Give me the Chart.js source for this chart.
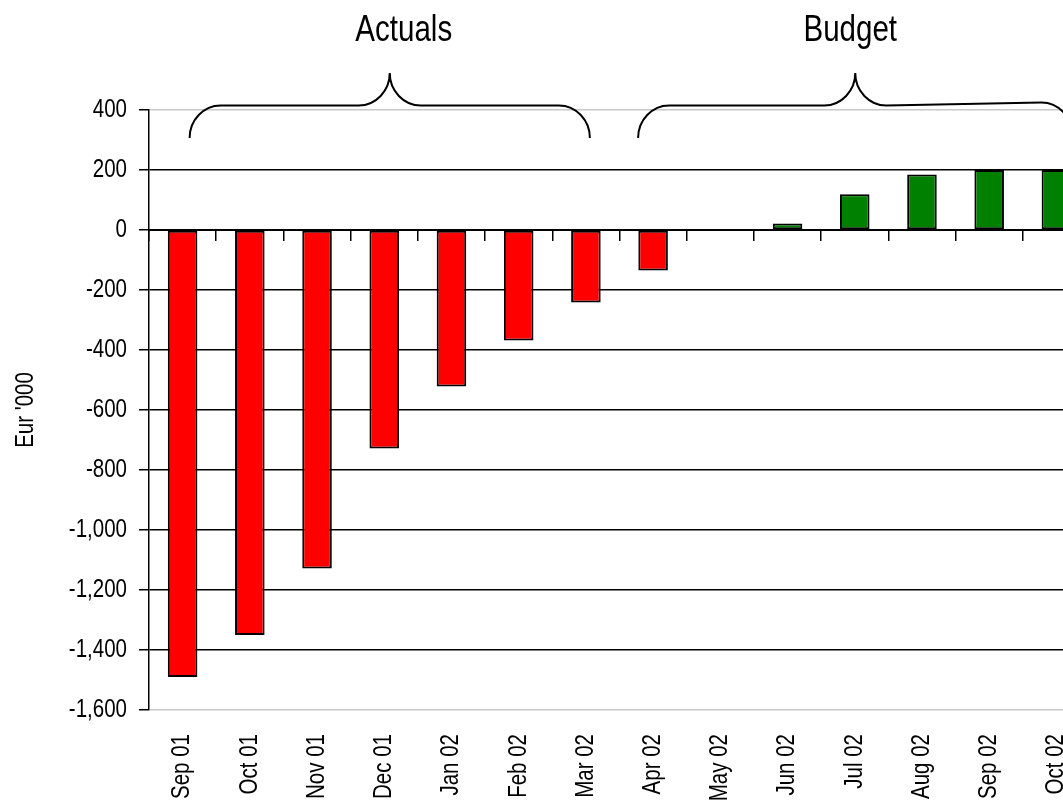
<!DOCTYPE html>
<html>
<head>
<meta charset="utf-8">
<script src="https://cdn.jsdelivr.net/npm/chart.js@4.4.1/dist/chart.umd.min.js"></script>
<style>
  html, body { margin: 0; padding: 0; background: #fff; overflow: hidden; width: 1063px; height: 803px; }
  #wrap { position: relative; width: 1090px; height: 803px; }
</style>
</head>
<body>
<div id="wrap"><canvas id="cash" width="1090" height="803"></canvas></div>
<script>
// Monthly cash position, Eur '000
const months = ['Sep 01', 'Oct 01', 'Nov 01', 'Dec 01', 'Jan 02', 'Feb 02', 'Mar 02',
                'Apr 02', 'May 02', 'Jun 02', 'Jul 02', 'Aug 02', 'Sep 02', 'Oct 02'];
const cashPosition = [-1490, -1350, -1128, -728, -522, -368, -242,
                      -135, 0, 22, 119, 185, 200, 200];
const yTickValues = [400, 200, 0, -200, -400, -600, -800, -1000, -1200, -1400, -1600];
const yAxisTitle = "Eur '000";

// Period groups shown with a brace above the plot
const groupLabels = ['Actuals', 'Budget'];
const groupFirst = ['Sep 01', 'Apr 02'];
const groupLast = ['Mar 02', 'Oct 02'];

const FONT = "'Liberation Sans', Arial, sans-serif";
const NARROW = 0.82; // horizontal squeeze giving a narrow typeface look

// brace geometry per group (pixel offsets from the first / last category centre)
const braceStyle = [
  { padL: 7, padR: 4, labelShift: 14, rise: 0 },
  { padL: -15, padR: 16, labelShift: -5, rise: 3 }
];

function drawBrace(ctx, x0, x1, yTop, h, r, rise) {
  const k = 0.55;
  const xm = (x0 + x1) / 2;
  const yR = yTop - rise;
  ctx.beginPath();
  ctx.moveTo(x0, yTop + h);
  ctx.bezierCurveTo(x0, yTop + h * (1 - k), x0 + r * (1 - k), yTop, x0 + r, yTop);
  ctx.lineTo(xm - r, yTop);
  ctx.bezierCurveTo(xm - r * (1 - k), yTop, xm, yTop - h * (1 - k), xm, yTop - h);
  ctx.bezierCurveTo(xm, yTop - h * (1 - k), xm + r * (1 - k), yTop, xm + r, yTop);
  ctx.lineTo(x1 - r, yR);
  ctx.bezierCurveTo(x1 - r * (1 - k), yR, x1, yR + h * (1 - k), x1, yR + h);
  ctx.stroke();
}

const groupBraces = {
  id: 'groupBraces',
  afterDraw(chart) {
    const { ctx, chartArea } = chart;
    const x = chart.scales.x;
    const yTop = chartArea.top - 4.5;
    ctx.save();
    ctx.strokeStyle = '#000';
    ctx.lineWidth = 2;
    ctx.fillStyle = '#000';
    ctx.font = '36px ' + FONT;
    ctx.textAlign = 'center';
    ctx.textBaseline = 'alphabetic';
    groupLabels.forEach((label, i) => {
      const st = braceStyle[i];
      const x0 = x.getPixelForValue(months.indexOf(groupFirst[i])) + st.padL;
      const x1 = x.getPixelForValue(months.indexOf(groupLast[i])) + st.padR;
      drawBrace(ctx, x0, x1, yTop, 32.5, 31, st.rise);
      ctx.fillText(label, (x0 + x1) / 2 + st.labelShift, chartArea.top - 69);
    });
    ctx.restore();
  }
};

const canvas = document.getElementById('cash');
const c2d = canvas.getContext('2d');
// every text run is drawn squeezed horizontally to a narrow width
const plainFillText = c2d.fillText.bind(c2d);
c2d.fillText = function (text, x, y, maxWidth) {
  const w = c2d.measureText(text).width * NARROW;
  plainFillText(text, x, y, maxWidth !== undefined ? Math.min(maxWidth, w) : w);
};

const barColors = cashPosition.map(v => (v < 0 ? '#ff0000' : '#008000'));
const yTickFont = { family: FONT, size: 25 };
const xTickFont = { family: FONT, size: 25 };

new Chart(canvas, {
  type: 'bar',
  data: {
    labels: months,
    datasets: [{
      data: cashPosition,
      backgroundColor: barColors,
      borderColor: '#000',
      borderWidth: 2,
      borderSkipped: false,
      barPercentage: 0.44,
      categoryPercentage: 1.0
    }]
  },
  options: {
    responsive: false,
    animation: false,
    devicePixelRatio: 1,
    layout: { padding: { top: 110, right: 0, bottom: 0, left: 0 } },
    plugins: { legend: { display: false }, tooltip: { enabled: false } },
    scales: {
      x: {
        type: 'category',
        offset: true,
        grid: { display: false, drawTicks: false },
        border: { display: false },
        ticks: {
          color: '#000',
          font: xTickFont,
          minRotation: 90,
          maxRotation: 90,
          autoSkip: false,
          padding: 24
        },
        afterFit(s) { s.height = 93; s.paddingLeft = 0; s.paddingRight = 0; }
      },
      x2: {
        type: 'category',
        axis: 'x',
        labels: months,
        position: { y: 0 },
        offset: true,
        grid: {
          display: true,
          offset: true,
          drawOnChartArea: false,
          drawTicks: true,
          tickLength: 10,
          color: '#000',
          lineWidth: 1.5
        },
        border: { display: true, color: '#000', width: 2 },
        ticks: { display: false }
      },
      y: {
        min: -1600,
        max: 400,
        afterBuildTicks(s) { s.ticks = yTickValues.map(v => ({ value: v })); },
        ticks: {
          color: '#000',
          font: yTickFont,
          padding: 12,
          callback: v => Number(v).toLocaleString('en-US')
        },
        grid: {
          color: c => (c.tick && (c.tick.value === 400 || c.tick.value === -1600)) ? '#c8c8c8' : '#000',
          lineWidth: 1.5,
          tickColor: '#000',
          tickLength: 10,
          drawTicks: true
        },
        border: { display: true, color: '#000', width: 1.5 },
        title: {
          display: true,
          text: yAxisTitle,
          color: '#000',
          font: yTickFont,
          padding: { top: 11, bottom: 0 }
        },
        afterFit(s) { s.width = 149; }
      }
    }
  },
  plugins: [groupBraces]
});
</script>
</body>
</html>
